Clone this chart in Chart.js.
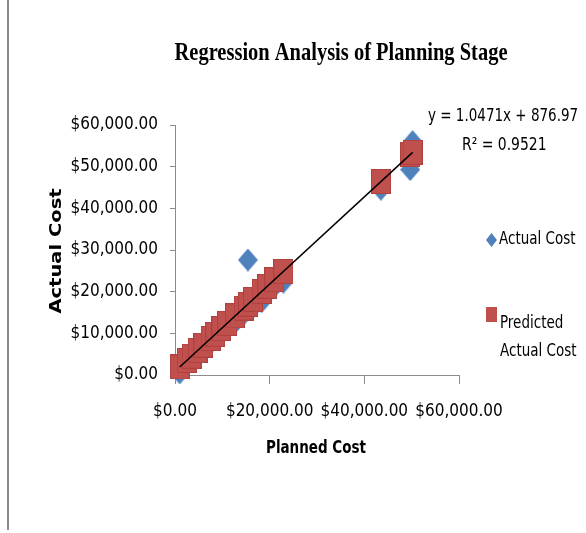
<!DOCTYPE html>
<html>
<head>
<meta charset="utf-8">
<script src="https://cdn.jsdelivr.net/npm/chart.js@4.4.1/dist/chart.umd.min.js"></script>
<style>
  html, body { margin: 0; padding: 0; background: #fff; }
  canvas { display: block; }
</style>
</head>
<body>
<canvas id="regressao" width="586" height="533"></canvas>
<script>
// valores
const plannedCost = [1000, 2500, 3500, 4800, 6000, 7500, 8500, 9800, 11000, 12700,
  14500, 15400, 16500, 18300, 19500, 21000, 22900, 43500, 49700, 50200];
const actualCost = [500, 2600, 3700, 4600, 6200, 7600, 8800, 10000, 11200, 12600,
  14600, 27600, 16300, 17600, 19600, 21200, 22300, 44600, 49300, 56000];
const predictedCost = [1924, 3495, 4542, 5903, 7160, 8730, 9777, 11138, 12395, 14175,
  16060, 17002, 18154, 20039, 21295, 22866, 24855, 46426, 52918, 53441];
const trendX = [1000, 50200];
const trendY = [1924, 53441];
const xTicks = [0, 20000, 40000, 60000];
const yTicks = [0, 10000, 20000, 30000, 40000, 50000, 60000];

const narrow = "'Liberation Sans Narrow', 'DejaVu Sans Condensed', sans-serif";
const toPoints = (xs, ys) => xs.map((x, i) => ({ x: x, y: ys[i] }));
const money = v => '$' + Number(v).toLocaleString('en-US', { minimumFractionDigits: 2, maximumFractionDigits: 2 });

// marcadores (o original é um pouco mais alto que largo)
function squareMark(w, h, fill, stroke) {
  const cv = document.createElement('canvas');
  cv.width = w; cv.height = h;
  const g = cv.getContext('2d');
  g.fillStyle = stroke;
  g.fillRect(0, 0, w, h);
  g.fillStyle = fill;
  g.fillRect(1, 1, w - 2, h - 2);
  return cv;
}
function diamondMark(w, h, fill) {
  const cv = document.createElement('canvas');
  cv.width = w; cv.height = h;
  const g = cv.getContext('2d');
  g.fillStyle = fill;
  g.beginPath();
  g.moveTo(w / 2, 0);
  g.lineTo(w, h / 2);
  g.lineTo(w / 2, h);
  g.lineTo(0, h / 2);
  g.closePath();
  g.fill();
  return cv;
}

// texto esticado na vertical, como no original
function tallText(c, txt, x, y, font, sx, sy) {
  c.save();
  c.translate(x, y);
  c.scale(sx, sy);
  c.font = font;
  c.fillText(txt, 0, 0);
  c.restore();
}

const textos = {
  id: 'textos',
  afterDraw(chart) {
    const c = chart.ctx;
    c.save();
    // borda esquerda
    c.strokeStyle = '#8c8c8c';
    c.lineWidth = 2;
    c.beginPath();
    c.moveTo(8, 0);
    c.lineTo(8, 530);
    c.stroke();

    c.fillStyle = '#000';
    c.textBaseline = 'middle';
    c.textAlign = 'center';
    tallText(c, 'Regression Analysis of Planning Stage', 341, 54, "bold 21px 'Liberation Serif', serif", 0.975, 1.15);
    tallText(c, 'Planned Cost', 316, 448, "bold 15px " + narrow, 1, 1.2);

    c.save();
    c.translate(57, 251);
    c.rotate(-Math.PI / 2);
    c.scale(1.3, 1);
    c.font = "bold 15px 'DejaVu Sans', sans-serif";
    c.fillText('Actual Cost', 0, 0);
    c.restore();

    c.textAlign = 'left';
    tallText(c, 'y = 1.0471x + 876.97', 428, 117, "15px " + narrow, 1, 1.12);
    tallText(c, 'R² = 0.9521', 462, 145, "15.5px " + narrow, 1, 1.12);

    // legenda
    c.fillStyle = '#4F81BD';
    c.beginPath();
    c.moveTo(491.5, 233);
    c.lineTo(497, 240);
    c.lineTo(491.5, 247);
    c.lineTo(486, 240);
    c.closePath();
    c.fill();
    c.fillStyle = '#C0504D';
    c.fillRect(486, 307, 11, 15);

    c.fillStyle = '#000';
    tallText(c, 'Actual Cost', 499, 240, "15px " + narrow, 1, 1.12);
    tallText(c, 'Predicted', 500, 324, "15px " + narrow, 1, 1.12);
    tallText(c, 'Actual Cost', 500, 352, "15px " + narrow, 1, 1.12);
    c.restore();
  }
};

const ctx = document.getElementById('regressao').getContext('2d');
const regressionChart = new Chart(ctx, {
  type: 'scatter',
  data: {
    datasets: [
      {
        label: 'Linear (Predicted Actual Cost)',
        data: toPoints(trendX, trendY),
        showLine: true,
        borderColor: '#000',
        borderWidth: 1.5,
        pointRadius: 0,
        order: 0,
        clip: false
      },
      {
        label: 'Predicted Actual Cost',
        data: toPoints(plannedCost, predictedCost),
        pointStyle: squareMark(20, 25, '#C0504D', '#B0413F'),
        pointRadius: 12,
        order: 1,
        clip: false
      },
      {
        label: 'Actual Cost',
        data: toPoints(plannedCost, actualCost),
        pointStyle: diamondMark(20, 23, '#4F81BD'),
        pointRadius: 11,
        order: 2,
        clip: false
      }
    ]
  },
  options: {
    responsive: false,
    animation: false,
    layout: { padding: { left: 0, top: 125, right: 127, bottom: 0 } },
    plugins: {
      legend: { display: false },
      title: { display: false },
      tooltip: { enabled: false }
    },
    scales: {
      x: {
        min: 0,
        max: 60000,
        afterFit: s => { s.height = 158; },
        afterBuildTicks: s => { s.ticks = xTicks.map(v => ({ value: v })); },
        grid: { drawOnChartArea: false, tickLength: 9, color: '#8c8c8c' },
        border: { color: '#8c8c8c' },
        ticks: {
          color: '#000',
          padding: 17,
          maxRotation: 0,
          font: { family: narrow, size: 17 },
          callback: v => money(v)
        }
      },
      y: {
        min: 0,
        max: 60000,
        afterFit: s => { s.width = 175; },
        afterBuildTicks: s => { s.ticks = yTicks.map(v => ({ value: v })); },
        grid: { drawOnChartArea: false, tickLength: 5, color: '#8c8c8c' },
        border: { color: '#8c8c8c' },
        ticks: {
          color: '#000',
          padding: 12,
          font: { family: narrow, size: 17 },
          callback: v => money(v)
        }
      }
    }
  },
  plugins: [textos]
});
</script>
</body>
</html>
